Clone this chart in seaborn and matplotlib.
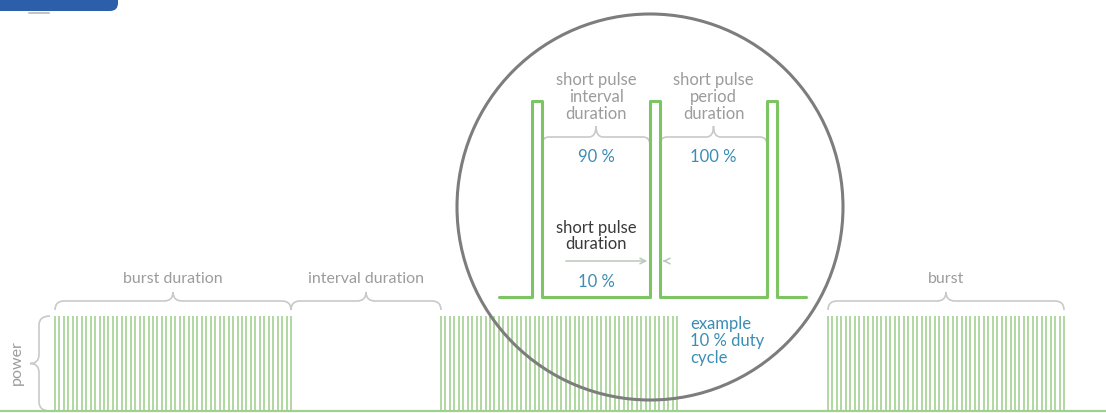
import numpy as np
import pandas as pd
import seaborn as sns
import matplotlib.pyplot as plt
from matplotlib.path import Path
from matplotlib.patches import PathPatch, Circle, FancyBboxPatch

# time axis in diagram units (1 unit = 1 px of the original picture)
burst_starts = [55, 441, 828]
burst_length = 236
pulses_per_burst = 54
train_base = 411
train_top = 316

# zoomed square wave shown in the magnifier circle
zoom_pulse_starts = [532, 650, 767]
zoom_pulse_width = 10
zoom_wave_span = [499, 806]
zoom_base = 297
zoom_top = 101

# magnifier circle
circle_center = (650, 207)
circle_radius = 193

# colours
green = '#7cc464'
train_green = '#9fd08e'
grey_text = '#9c9c9c'
blue_text = '#3b8db4'
dark_text = '#3a3a3a'
brace_grey = '#c9c9c9'

sns.set_style('white')
plt.rcParams['font.family'] = ['Lato', 'DejaVu Sans']

fig = plt.figure(figsize=(11.06, 4.13), dpi=100)
ax = fig.add_axes([0, 0, 1, 1])


def hbrace(x0, x1, y_end, y_mid, y_tip, r=9):
    xm = (x0 + x1) / 2
    verts = [(x0, y_end), (x0, y_mid), (x0 + r, y_mid), (xm - r, y_mid),
             (xm, y_mid), (xm, y_tip), (xm, y_mid), (xm + r, y_mid),
             (x1 - r, y_mid), (x1, y_mid), (x1, y_end)]
    codes = [Path.MOVETO, Path.CURVE3, Path.CURVE3, Path.LINETO,
             Path.CURVE3, Path.CURVE3, Path.CURVE3, Path.CURVE3,
             Path.LINETO, Path.CURVE3, Path.CURVE3]
    ax.add_patch(PathPatch(Path(verts, codes), fill=False, ec=brace_grey, lw=1.2))


def vbrace(y0, y1, x_end, x_mid, x_tip, r=9):
    ym = (y0 + y1) / 2
    verts = [(x_end, y0), (x_mid, y0), (x_mid, y0 + r), (x_mid, ym - r),
             (x_mid, ym), (x_tip, ym), (x_mid, ym), (x_mid, ym + r),
             (x_mid, y1 - r), (x_mid, y1), (x_end, y1)]
    codes = [Path.MOVETO, Path.CURVE3, Path.CURVE3, Path.LINETO,
             Path.CURVE3, Path.CURVE3, Path.CURVE3, Path.CURVE3,
             Path.LINETO, Path.CURVE3, Path.CURVE3]
    ax.add_patch(PathPatch(Path(verts, codes), fill=False, ec=brace_grey, lw=1.2))


# zoomed square wave (drawn first so seaborn sets up the axes)
wx = [zoom_wave_span[0]]
wy = [zoom_base]
for s in zoom_pulse_starts:
    wx += [s, s, s + zoom_pulse_width, s + zoom_pulse_width]
    wy += [zoom_base, zoom_top, zoom_top, zoom_base]
wx.append(zoom_wave_span[1])
wy.append(zoom_base)
wave = pd.DataFrame({'t': wx, 'p': wy})
sns.lineplot(data=wave, x='t', y='p', sort=False, estimator=None, color=green, lw=2.2, ax=ax)

# pulse trains
period = burst_length / (pulses_per_burst - 1)
for start in burst_starts:
    xs = start + np.arange(pulses_per_burst) * period
    ax.vlines(xs, train_top, train_base, color=train_green, lw=1.15)
ax.axhline(train_base, color=train_green, lw=1.6)

# braces + labels over the trains
brace_y = (310, 301, 292)
hbrace(burst_starts[0], burst_starts[0] + burst_length, *brace_y)
hbrace(burst_starts[0] + burst_length, burst_starts[1], *brace_y)
hbrace(burst_starts[2], burst_starts[2] + burst_length, *brace_y)
lbl = dict(color=grey_text, fontsize=11.5, ha='center', va='center')
ax.text(burst_starts[0] + burst_length / 2, 279, 'burst duration', **lbl)
ax.text((burst_starts[0] + burst_length + burst_starts[1]) / 2, 279, 'interval duration', **lbl)
ax.text(burst_starts[2] + burst_length / 2, 279, 'burst', **lbl)

vbrace(train_top, train_base, 50, 39, 30)
ax.text(17, 363, 'power', rotation=90, **lbl)

# magnifier circle
ax.add_patch(Circle(circle_center, circle_radius, fill=False, ec='#7d7d7d', lw=2.2, zorder=5))

# braces inside the circle
p0, p1, p2 = zoom_pulse_starts
w = zoom_pulse_width
hbrace(p0 + w, p1, 145, 137, 126, r=7)
hbrace(p1 + w, p2, 145, 137, 126, r=7)

mid_a = (p0 + w + p1) / 2
mid_b = (p1 + w + p2) / 2
ax.text(mid_a, 97, 'short pulse\ninterval\nduration', color=grey_text,
        fontsize=12, ha='center', va='center', linespacing=1.05)
ax.text(mid_b, 97, 'short pulse\nperiod\nduration', color=grey_text,
        fontsize=12, ha='center', va='center', linespacing=1.05)
ax.text(mid_a, 157, '90 %', color=blue_text, fontsize=12, ha='center', va='center')
ax.text(mid_b, 157, '100 %', color=blue_text, fontsize=12, ha='center', va='center')

ax.text(mid_a, 236, 'short pulse\nduration', color=dark_text,
        fontsize=12, ha='center', va='center', linespacing=1.05)
ax.annotate('', xy=(p1, 261), xytext=(563, 261),
            arrowprops=dict(arrowstyle='->', color='#b9c9b9', lw=1.1))
ax.annotate('', xy=(p1 + w, 261), xytext=(p1 + w + 8, 261),
            arrowprops=dict(arrowstyle='->', color='#b9c9b9', lw=1.1))
ax.text(mid_a, 282, '10 %', color=blue_text, fontsize=12, ha='center', va='center')

ax.text(690, 341, 'example\n10 % duty\ncycle', color=blue_text, fontsize=12,
        ha='left', va='center', linespacing=1.05)

# header tab in the top-left corner
ax.add_patch(FancyBboxPatch((-30, -20), 148, 31, boxstyle='round,pad=0,rounding_size=8',
                            fc='#2c5faa', ec='none', zorder=6))
ax.add_patch(FancyBboxPatch((28, 12), 22, 2, boxstyle='round,pad=0,rounding_size=1',
                            fc='#c4c4c4', ec='none', zorder=6))

ax.set_xlim(0, 1106)
ax.set_ylim(413, 0)
ax.axis('off')

fig.savefig('out.png', dpi=100)
